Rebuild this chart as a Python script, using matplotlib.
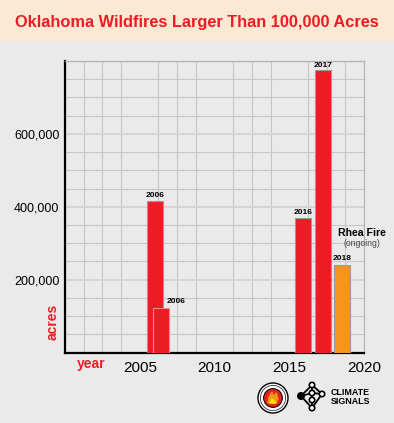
import matplotlib
matplotlib.use('Agg')
import matplotlib.pyplot as plt
from matplotlib.ticker import MultipleLocator, FuncFormatter, FixedLocator
from matplotlib.patches import Circle, Polygon

plt.rcParams['font.family'] = ['Liberation Sans', 'DejaVu Sans']

# data
bar_x = [2006.0, 2006.4, 2015.9, 2017.25, 2018.55]
acres = [415000, 122000, 368000, 775000, 240000]
bar_labels = ['2006', '2006', '2016', '2017', '2018']
bar_colors = ['#ED1C24', '#ED1C24', '#ED1C24', '#ED1C24', '#F7941D']
year_ticks = [2005, 2010, 2015, 2020]
acre_ticks = [200000, 400000, 600000]

RED = '#ED1C24'
BG = '#EAEAEA'

fig = plt.figure(figsize=(3.94, 4.23), dpi=100)
fig.patch.set_facecolor(BG)

# peach header band with title
fig.patches.append(plt.Rectangle((0, 1 - 41 / 423), 1, 41 / 423, transform=fig.transFigure,
                                 facecolor='#FCE8D3', edgecolor='none', zorder=0))
fig.text(0.5, 1 - 22.5 / 423, 'Oklahoma Wildfires Larger Than 100,000 Acres',
         ha='center', va='center', color=RED, fontsize=11.75, fontweight='bold')

ax = fig.add_axes([65 / 394, 70.5 / 423, 299 / 394, 291.5 / 423])
ax.set_facecolor(BG)
ax.set_xlim(2000, 2020)
ax.set_ylim(0, 800000)

# grid 16 x 16
ax.xaxis.set_major_locator(FixedLocator(year_ticks))
ax.xaxis.set_minor_locator(MultipleLocator(1.25))
ax.yaxis.set_major_locator(FixedLocator(acre_ticks))
ax.yaxis.set_minor_locator(MultipleLocator(50000))
ax.grid(which='minor', color='#c6c6c6', linewidth=0.8)
ax.grid(which='major', axis='y', color='#d4d4d4', linewidth=1.4)
ax.set_axisbelow(True)
ax.tick_params(which='both', length=0)
ax.tick_params(axis='x', labelsize=11, pad=6)
ax.tick_params(axis='y', labelsize=9, pad=4)
ax.yaxis.set_major_formatter(FuncFormatter(lambda v, p: f'{int(v):,}'))

for side in ['top', 'right']:
    ax.spines[side].set_color('#b4b4b4')
    ax.spines[side].set_linewidth(0.9)
for side in ['left', 'bottom']:
    ax.spines[side].set_color('black')
    ax.spines[side].set_linewidth(1.6)

edges = ['#9a9a9a', '#f4878c', '#9a9a9a', '#9a9a9a', '#9a9a9a']
bars = ax.bar(bar_x, acres, width=1.07, color=bar_colors, edgecolor=edges, linewidth=0.8, zorder=3)

# label offsets (points) so the second 2006 label sits up and to the right
label_offsets = [(0, 2), (11, 2), (0, 2), (0, 1), (0, 2)]
for x, v, lab, off in zip(bar_x, acres, bar_labels, label_offsets):
    ax.annotate(lab, (x, v), xytext=off, textcoords='offset points',
                ha='center', va='bottom', fontsize=6, fontweight='bold', zorder=4)

ax.text(2019.85, 328000, 'Rhea Fire', ha='center', va='center', fontsize=7.6,
        fontweight='bold', clip_on=False, zorder=4)
ax.text(2019.85, 300000, '(ongoing)', ha='center', va='center', fontsize=6.2,
        color='#444444', clip_on=False, zorder=4)

fig.text(53 / 394, 1 - 322 / 423, 'acres', rotation=90, ha='center', va='center',
         color=RED, fontsize=10, fontweight='bold')
fig.text(91 / 394, 1 - 364 / 423, 'year', ha='center', va='center',
         color=RED, fontsize=10, fontweight='bold')

# logos, drawn in pixel coordinates
lg = fig.add_axes([0, 0, 1, 1], zorder=5)
lg.set_xlim(0, 394)
lg.set_ylim(423, 0)
lg.axis('off')
lg.set_aspect('equal')
cx, cy = 273, 398
lg.add_patch(Circle((cx, cy), 15, color='black'))
lg.add_patch(Circle((cx, cy), 13.6, color='white'))
lg.add_patch(Circle((cx, cy), 12.6, facecolor='white', edgecolor='#333333', linewidth=0.6))
lg.add_patch(Circle((cx, cy), 9.2, color='black'))
lg.add_patch(Circle((cx, cy), 8.2, color='#E2231A'))
lg.add_patch(Polygon([(cx - 5, cy + 5), (cx - 4, cy - 1), (cx - 1, cy - 6), (cx, cy - 1),
                      (cx + 3, cy - 5), (cx + 5, cy + 1), (cx + 3, cy + 5)],
                     closed=True, color='#F7941D'))
lg.add_patch(Polygon([(cx - 3, cy + 5), (cx - 1, cy + 1), (cx + 1, cy + 3), (cx + 3, cy + 5)],
                     closed=True, color='#FFE600'))

# network icon: left dot, then top, mid, right, lower, bottom nodes
dot = (301, 396)
nodes = [(312, 385), (312, 393), (322, 394), (312, 400), (312, 408)]
links = [(0, 1), (0, 2), (1, 2), (1, 3), (3, 4), (4, 2)]
for a, b in links:
    lg.plot([nodes[a][0], nodes[b][0]], [nodes[a][1], nodes[b][1]], color='black', lw=1.3)
for n in (0, 1, 4):
    lg.plot([dot[0], nodes[n][0]], [dot[1], nodes[n][1]], color='black', lw=1.3)
lg.add_patch(Circle(dot, 3.3, color='black'))
for nx, ny in nodes:
    lg.add_patch(Circle((nx, ny), 2.7, facecolor='white', edgecolor='black', linewidth=1.2, zorder=3))
lg.text(331, 392.5, 'CLIMATE', ha='left', va='center', fontsize=6.4, fontweight='bold')
lg.text(331, 401.5, 'SIGNALS', ha='left', va='center', fontsize=6.4, fontweight='bold')

fig.savefig('out.png', dpi=100, facecolor=fig.get_facecolor())
